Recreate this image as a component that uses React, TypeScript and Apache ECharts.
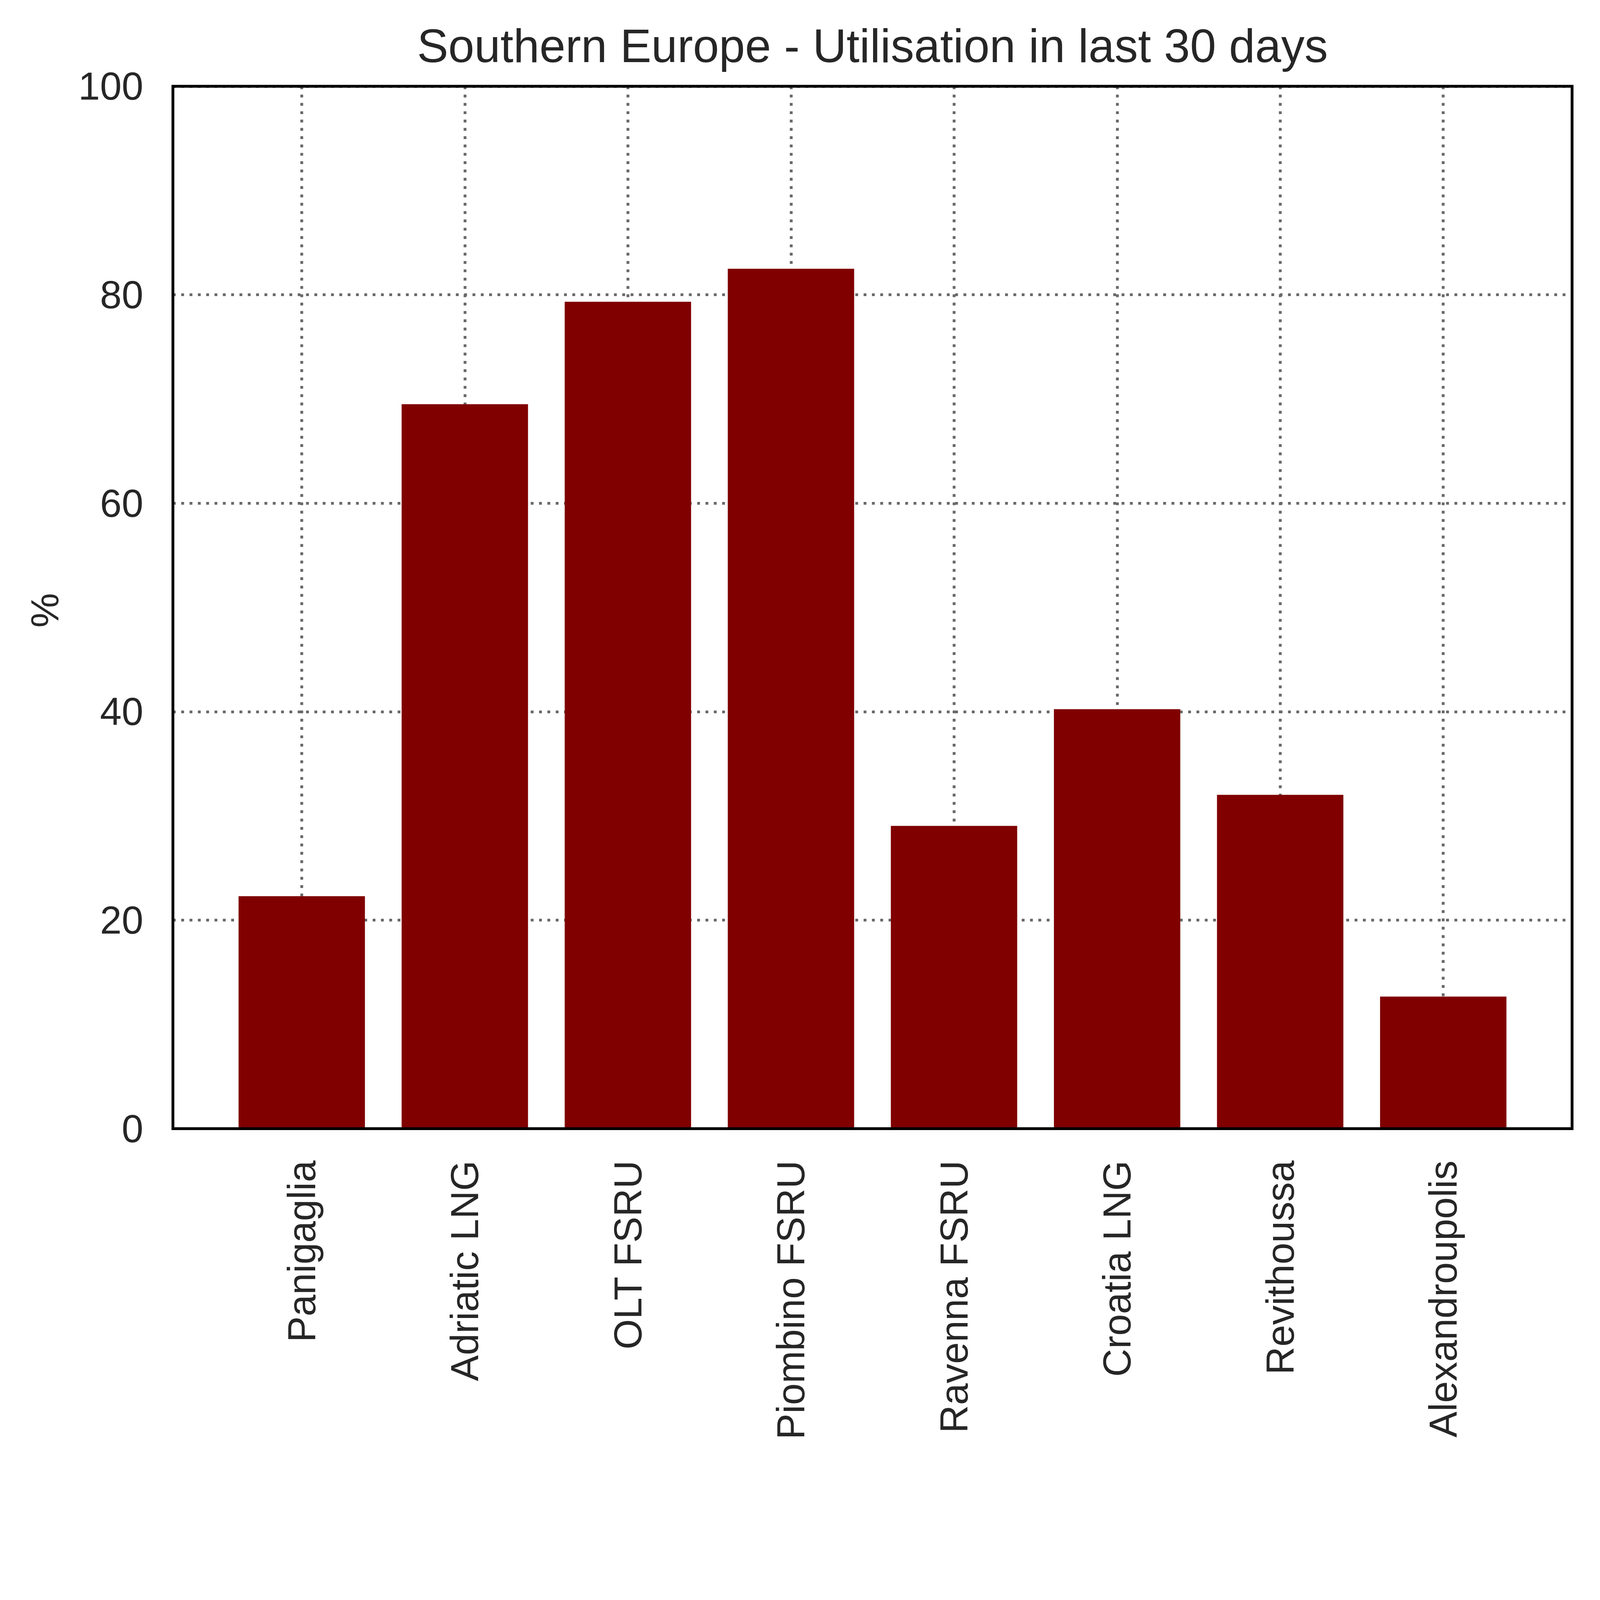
import React, { useEffect, useRef } from "react";
import * as echarts from "echarts";

const categories = [
  "Panigaglia",
  "Adriatic LNG",
  "OLT FSRU",
  "Piombino FSRU",
  "Ravenna FSRU",
  "Croatia LNG",
  "Revithoussa",
  "Alexandroupolis",
];
const utilisation = [22.3, 69.5, 79.33, 82.5, 29.05, 40.24, 32.03, 12.67];
const yMin = 0;
const yMax = 100;
const yInterval = 20;
const chartTitle = "Southern Europe - Utilisation in last 30 days";
const yName = "%";

const TEXT = "#262626";
const FONT = "'Liberation Sans', Arial, Helvetica, sans-serif";
const GRID_COLOR = "#696969";

const REF_W = 5672;
const REF_H = 5194;

function getScale() {
  const w = window.innerWidth || REF_W;
  const h = window.innerHeight || REF_H;
  return Math.min(1, w / REF_W, h / REF_H);
}

export default function App() {
  const ref = useRef<HTMLDivElement>(null);
  const s = typeof window !== "undefined" ? getScale() : 1;
  useEffect(() => {
    document.body.style.margin = "0";
    const chart = echarts.init(ref.current!, null, { renderer: "svg" });
    const positions = categories.map((_, i) => i);
    const gridLeft = 613 * s;
    const gridTop = 306 * s;
    const gridW = 4960 * s;
    const gridH = 3695 * s;
    const dash = [10 * s, 19.5 * s];
    chart.setOption({
      animation: false,
      backgroundColor: "#ffffff",
      grid: {
        left: gridLeft,
        top: gridTop,
        width: gridW,
        height: gridH,
        containLabel: false,
        outerBoundsMode: "none",
      },
      xAxis: {
        type: "value",
        min: -0.79,
        max: 7.79,
        axisLine: { show: false },
        axisTick: { show: false, customValues: positions },
        axisLabel: {
          customValues: positions,
          formatter: (v: number) => categories[Math.round(v)] ?? "",
          rotate: 90,
          margin: 113 * s,
          fontSize: 138 * s,
          fontFamily: FONT,
          color: TEXT,
        },
        splitLine: {
          show: true,
          lineStyle: { color: GRID_COLOR, width: 10 * s, type: dash },
        },
      },
      yAxis: {
        type: "value",
        min: yMin,
        max: yMax,
        interval: yInterval,
        axisLine: { show: false },
        axisTick: { show: false },
        axisLabel: {
          margin: 105 * s,
          fontSize: 138 * s,
          fontFamily: FONT,
          color: TEXT,
        },
        splitLine: {
          show: true,
          lineStyle: { color: GRID_COLOR, width: 10 * s, type: dash },
        },
      },
      series: [
        {
          type: "bar",
          data: utilisation.map((v, i) => [positions[i], v]),
          barWidth: 448 * s,
          itemStyle: { color: "#800000" },
          z: 3,
        },
      ],
      graphic: [
        {
          type: "text",
          x: gridLeft + gridW / 2,
          y: 162 * s,
          z: 100,
          style: {
            text: chartTitle,
            fontSize: 166 * s,
            fontFamily: FONT,
            fill: TEXT,
            align: "center",
            verticalAlign: "middle",
          },
        },
        {
          type: "text",
          x: 158 * s,
          y: gridTop + gridH / 2 + 10 * s,
          rotation: Math.PI / 2,
          z: 100,
          style: {
            text: yName,
            fontSize: 138 * s,
            fontFamily: FONT,
            fill: TEXT,
            align: "center",
            verticalAlign: "middle",
          },
        },
        {
          type: "rect",
          z: 100,
          shape: { x: gridLeft, y: gridTop, width: gridW, height: gridH },
          style: { fill: "none", stroke: "#000000", lineWidth: 10 * s },
        },
      ],
    });
    return () => chart.dispose();
  }, [s]);
  return (
    <div
      ref={ref}
      style={{ width: Math.floor(REF_W * s), height: Math.floor(REF_H * s) }}
    />
  );
}
